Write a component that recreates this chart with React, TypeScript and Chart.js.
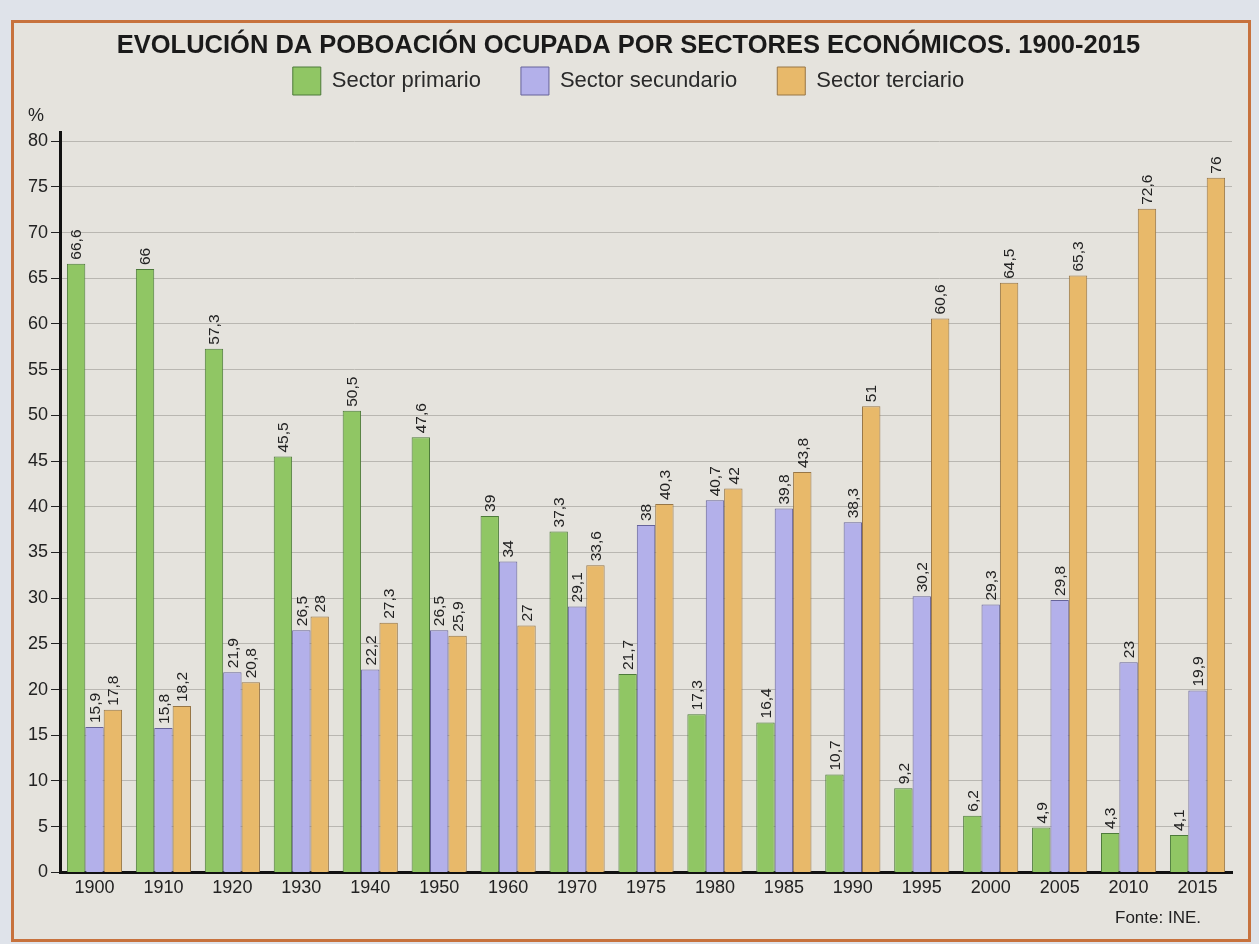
import React, { useEffect, useRef } from 'react';
import { Chart, registerables } from 'chart.js';

Chart.register(...registerables);

const years = ['1900', '1910', '1920', '1930', '1940', '1950', '1960', '1970', '1975', '1980', '1985', '1990', '1995', '2000', '2005', '2010', '2015'];
const primary = [66.6, 66, 57.3, 45.5, 50.5, 47.6, 39, 37.3, 21.7, 17.3, 16.4, 10.7, 9.2, 6.2, 4.9, 4.3, 4.1];
const secondary = [15.9, 15.8, 21.9, 26.5, 22.2, 26.5, 34, 29.1, 38, 40.7, 39.8, 38.3, 30.2, 29.3, 29.8, 23, 19.9];
const tertiary = [17.8, 18.2, 20.8, 28, 27.3, 25.9, 27, 33.6, 40.3, 42, 43.8, 51, 60.6, 64.5, 65.3, 72.6, 76];
const yTicks = [0, 5, 10, 15, 20, 25, 30, 35, 40, 45, 50, 55, 60, 65, 70, 75, 80];
const seriesNames = ['Sector primario', 'Sector secundario', 'Sector terciario'];
const titleText = 'EVOLUCIÓN DA POBOACIÓN OCUPADA POR SECTORES ECONÓMICOS. 1900-2015';
const unitLabel = '%';
const sourceLabel = 'Fonte: INE.';

const FONT = "'Liberation Sans', Arial, sans-serif";

const fmt = (v: number) => String(v).replace('.', ',');

const extras = {
  id: 'extras',
  afterDatasetsDraw(chart: any) {
    const ctx = chart.ctx;
    ctx.save();
    ctx.font = `15.5px ${FONT}`;
    ctx.fillStyle = '#222';
    ctx.textAlign = 'left';
    ctx.textBaseline = 'middle';
    chart.data.datasets.forEach((ds: any, i: number) => {
      const meta = chart.getDatasetMeta(i);
      meta.data.forEach((el: any, j: number) => {
        ctx.save();
        ctx.translate(el.x, el.y - 4);
        ctx.rotate(-Math.PI / 2);
        ctx.fillText(fmt(ds.data[j]), 0, 1);
        ctx.restore();
      });
    });
    ctx.restore();
  },
  afterDraw(chart: any) {
    const ctx = chart.ctx;
    ctx.save();
    ctx.fillStyle = '#222';
    ctx.font = `18px ${FONT}`;
    ctx.textAlign = 'center';
    ctx.textBaseline = 'middle';
    ctx.fillText(unitLabel, 36, 116);
    ctx.font = `17px ${FONT}`;
    ctx.textAlign = 'right';
    ctx.fillText(sourceLabel, 1201, 918);
    ctx.restore();
  },
};

export default function App() {
  const ref = useRef<HTMLCanvasElement>(null);

  useEffect(() => {
    if (!ref.current) return;
    const chart = new Chart(ref.current, {
      type: 'bar',
      data: {
        labels: years,
        datasets: [
          { label: seriesNames[0], data: primary, backgroundColor: '#90c664', borderColor: '#4d7a3a', borderWidth: 1 },
          { label: seriesNames[1], data: secondary, backgroundColor: '#b3b0ea', borderColor: '#66639a', borderWidth: 1 },
          { label: seriesNames[2], data: tertiary, backgroundColor: '#e8b96a', borderColor: '#977646', borderWidth: 1 },
        ],
      },
      options: {
        responsive: false,
        animation: false,
        devicePixelRatio: 1,
        layout: { padding: { left: 25, right: 27, top: 0, bottom: 40 } },
        datasets: { bar: { categoryPercentage: 0.8, barPercentage: 1.0 } },
        plugins: {
          tooltip: { enabled: false },
          title: {
            display: true,
            text: titleText,
            color: '#1a1a1a',
            font: { family: FONT, size: 25.5, weight: 'bold' },
            padding: { top: 30.7, bottom: -34.3 },
          },
          legend: {
            display: true,
            labels: {
              color: '#2a2a2a',
              font: { family: FONT, size: 22 },
              boxWidth: 28,
              boxHeight: 28,
              padding: 40,
            },
          },
        },
        scales: {
          x: {
            grid: { display: false, drawTicks: false },
            border: { display: true, color: '#111', width: 3 },
            ticks: { color: '#222', font: { family: FONT, size: 18 }, padding: 5 },
          },
          xTop: {
            position: 'top',
            grid: { display: false, drawTicks: false },
            border: { display: false },
            ticks: { display: false },
            afterFit: (s: any) => { s.height = 27; },
          },
          y: {
            min: 0,
            max: 81,
            ticks: { stepSize: 5, color: '#222', font: { family: FONT, size: 18 }, padding: 3 },
            afterBuildTicks: (s: any) => {
              s.ticks = yTicks.map((v) => ({ value: v }));
            },
            grid: { color: '#b9b7b1', lineWidth: 1, tickColor: '#222', tickLength: 9 },
            border: { display: true, color: '#111', width: 3 },
          },
        },
      } as any,
      plugins: [extras],
    });
    return () => chart.destroy();
  }, []);

  return (
    <div style={{ position: 'absolute', left: 0, top: 0, width: 1259, height: 944, background: '#dfe3ea', overflow: 'hidden' }}>
      <div
        style={{
          position: 'absolute',
          left: 11,
          top: 20,
          width: 1240,
          height: 922,
          border: '3px solid #c7723d',
          background: '#e5e3dd',
          boxSizing: 'border-box',
        }}
      />
      <canvas ref={ref} width={1259} height={944} style={{ position: 'absolute', left: 0, top: 0 }} />
    </div>
  );
}
